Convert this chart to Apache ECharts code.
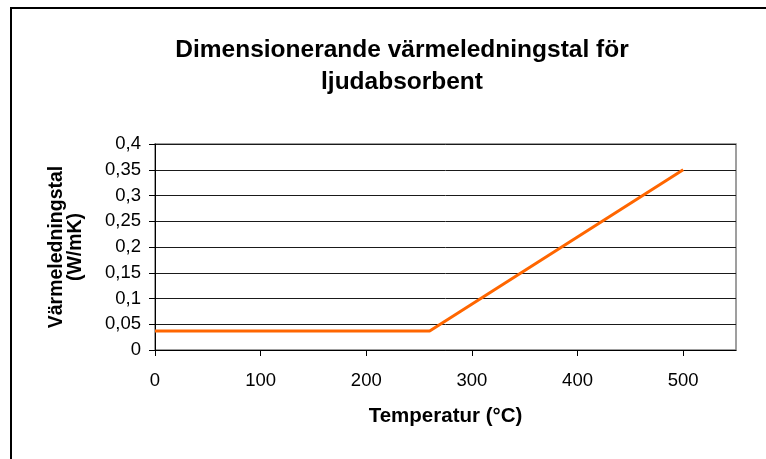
<!DOCTYPE html>
<html>
<head>
<meta charset="utf-8">
<script src="https://cdn.jsdelivr.net/npm/echarts@6/dist/echarts.min.js"></script>
<style>
  html, body { margin: 0; padding: 0; background: #fff; }
  #chart { width: 766px; height: 459px; }
</style>
</head>
<body>
<div id="chart"></div>
<script>
// Temperature (°C) and thermal conductivity (W/mK) of the sound absorber
const temperatures = [0, 260, 500];
const conductivity = [0.037, 0.037, 0.35];
const xTicks = [0, 100, 200, 300, 400, 500];
const yTicks = [0, 0.05, 0.1, 0.15, 0.2, 0.25, 0.3, 0.35, 0.4];

const titleText = 'Dimensionerande värmeledningstal för\nljudabsorbent';
const xName = 'Temperatur (°C)';
const yName = 'Värmeledningstal\n(W/mK)';

const fmt = v => String(v).replace('.', ',');
const font = 'Liberation Sans, Arial, sans-serif';

const chart = echarts.init(document.getElementById('chart'), null, { renderer: 'canvas' });
chart.setOption({
  animation: false,
  backgroundColor: '#ffffff',
  title: {
    text: titleText,
    left: 397,
    top: 29,
    textAlign: 'center',
    textStyle: {
      fontFamily: font, fontWeight: 'bold', fontSize: 24.5, color: '#000',
      lineHeight: 32
    }
  },
  graphic: [{
    type: 'rect',
    shape: { x: 11, y: 8, width: 800, height: 500 },
    style: { fill: 'none', stroke: '#000', lineWidth: 2 },
    silent: true
  }],
  grid: {
    left: 155, right: 30, top: 144, bottom: 109,
    show: true, borderColor: '#808080', borderWidth: 1.5,
    backgroundColor: 'transparent'
  },
  xAxis: {
    type: 'value',
    min: 0, max: 550, interval: 100,
    name: xName,
    nameLocation: 'middle',
    nameGap: 56,
    nameTextStyle: { fontFamily: font, fontWeight: 'bold', fontSize: 20.5, color: '#000' },
    axisLine: { show: true, onZero: false, lineStyle: { color: '#000', width: 1 } },
    axisTick: { show: true, inside: false, length: 6, lineStyle: { color: '#000' },
      customValues: xTicks },
    axisLabel: { fontFamily: font, fontSize: 18.5, color: '#000', margin: 21,
      customValues: xTicks, formatter: fmt },
    splitLine: { show: false }
  },
  yAxis: {
    type: 'value',
    min: 0, max: 0.4, interval: 0.05,
    name: yName,
    nameLocation: 'middle',
    nameGap: 70,
    nameRotate: 90,
    nameTextStyle: { fontFamily: font, fontWeight: 'bold', fontSize: 19.5, color: '#000', lineHeight: 19 },
    axisLine: { show: true, onZero: false, lineStyle: { color: '#000', width: 1 } },
    axisTick: { show: true, inside: false, length: 6, lineStyle: { color: '#000' },
      customValues: yTicks },
    axisLabel: { fontFamily: font, fontSize: 18.5, color: '#000', margin: 14,
      customValues: yTicks, formatter: fmt },
    splitLine: { show: true, lineStyle: { color: '#1a1a1a', width: 1 } }
  },
  series: [{
    type: 'line',
    data: temperatures.map((t, i) => [t, conductivity[i]]),
    showSymbol: false,
    symbol: 'none',
    lineStyle: { color: '#FF6600', width: 3 },
    itemStyle: { color: '#FF6600' }
  }]
});
</script>
</body>
</html>
